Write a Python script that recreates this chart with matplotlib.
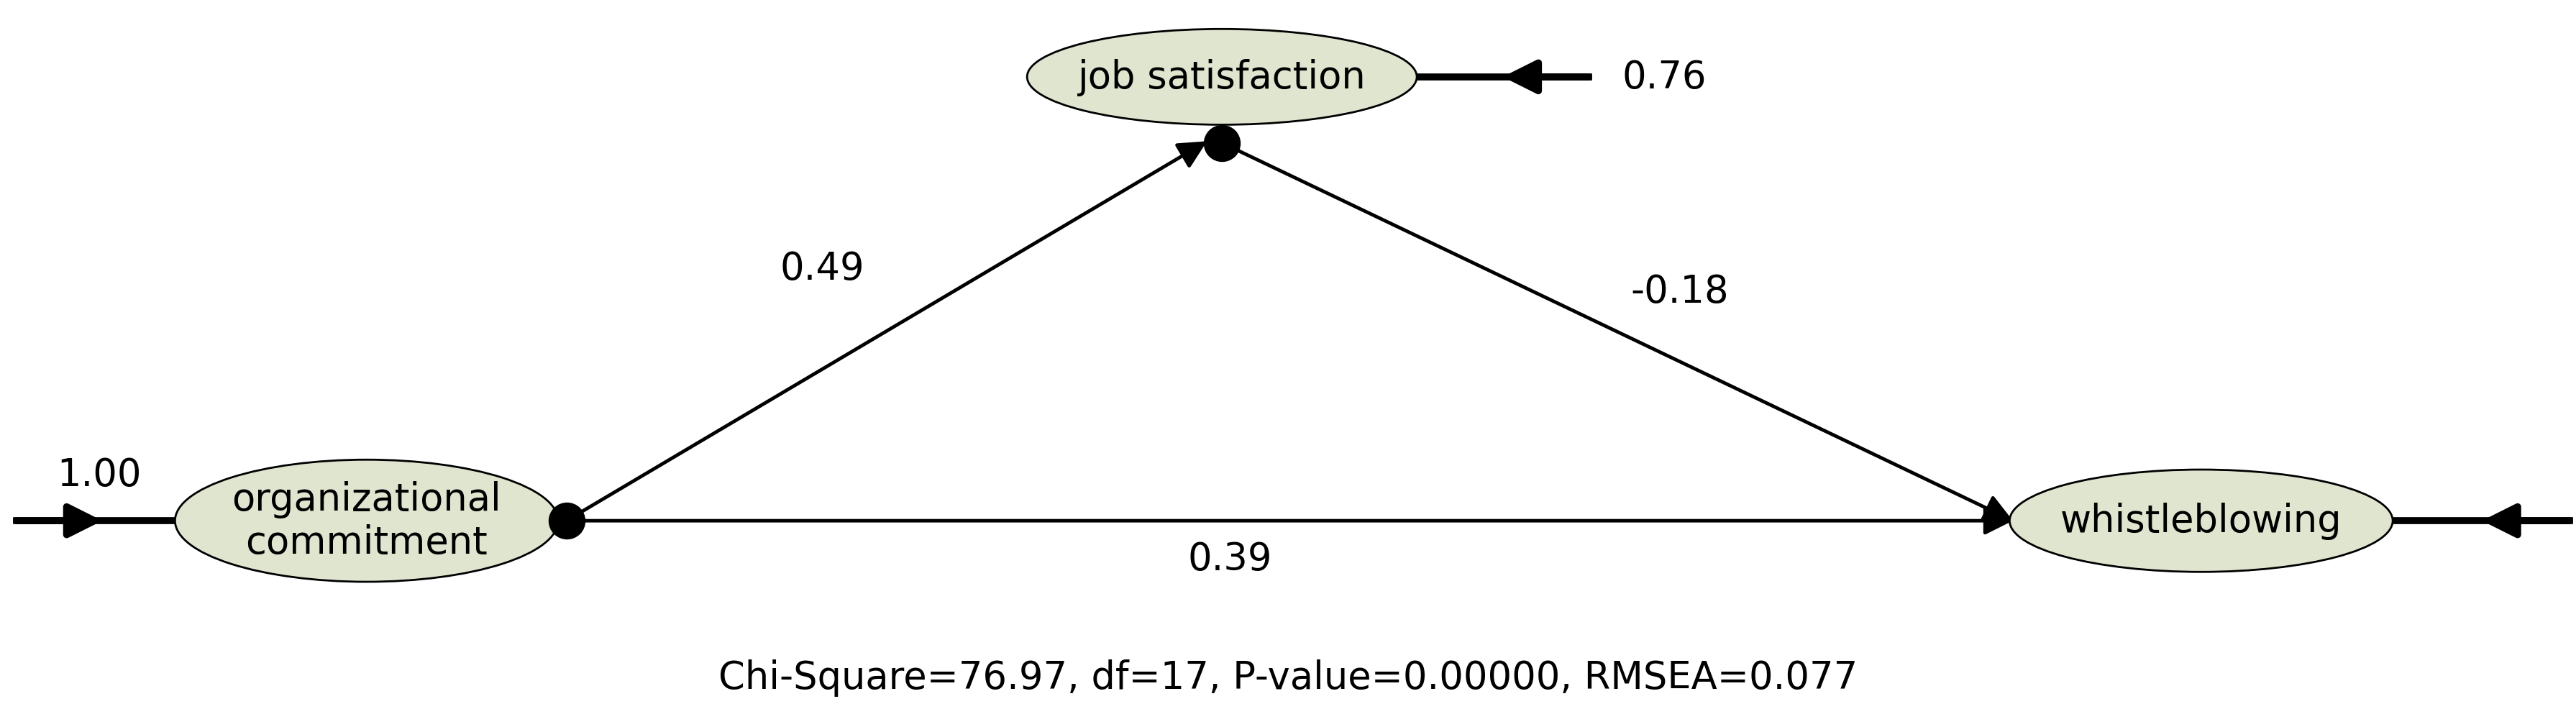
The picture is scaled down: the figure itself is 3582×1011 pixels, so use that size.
import matplotlib.pyplot as plt
from matplotlib.patches import Ellipse, FancyArrowPatch

# latent variables and their positions (in image px of a 1560x441 canvas)
node_names = ["organizational\ncommitment", "job satisfaction", "whistleblowing"]
node_xy = [(222, 316), (740, 47), (1333, 316)]
node_wh = [(232, 74), (236, 58), (232, 62)]

path_coefs = [0.49, -0.18, 0.39]
error_vals = ["1.00", "0.76", ""]
fit_text = "Chi-Square=76.97, df=17, P-value=0.00000, RMSEA=0.077"

fill = "#dfe5cf"
fs = 38

fig = plt.figure(figsize=(35.82, 10.12), dpi=100)
ax = fig.add_axes([0, 0, 1, 1])
ax.set_xlim(0, 1560)
ax.set_ylim(441, 0)
ax.axis("off")


def arrow(p0, p1, lw=3.5, ms=60):
    ax.add_patch(FancyArrowPatch(p0, p1, arrowstyle="-|>", mutation_scale=ms,
                                 lw=lw, color="black", shrinkA=0, shrinkB=0, zorder=2))


for (x, y), (w, h), name in zip(node_xy, node_wh, node_names):
    ax.add_patch(Ellipse((x, y), w, h, fc=fill, ec="black", lw=2, zorder=3))
    ax.text(x, y, name, ha="center", va="center", fontsize=fs,
            linespacing=1.2, zorder=4)

# structural paths
arrow((343, 316), (731, 86))
arrow((740, 87), (1219, 316))
arrow((343, 316), (1219, 316))
for x, y in [(343, 316), (740, 87)]:
    ax.plot(x, y, "o", color="black", ms=36, zorder=5)

# error terms
ax.plot([10, 108], [316, 316], color="black", lw=7, zorder=2)
arrow((10, 316), (62, 316), lw=7, ms=70)
ax.plot([858, 962], [47, 47], color="black", lw=7, zorder=2)
arrow((962, 47), (910, 47), lw=7, ms=70)
ax.plot([1450, 1556], [316, 316], color="black", lw=7, zorder=2)
arrow((1556, 316), (1503, 316), lw=7, ms=70)

ax.text(60, 288, error_vals[0], ha="center", va="center", fontsize=fs)
ax.text(1008, 47, error_vals[1], ha="center", va="center", fontsize=fs)
ax.text(498, 163, f"{path_coefs[0]:.2f}", ha="center", va="center", fontsize=fs)
ax.text(1017, 177, f"{path_coefs[1]:.2f}", ha="center", va="center", fontsize=fs)
ax.text(745, 339, f"{path_coefs[2]:.2f}", ha="center", va="center", fontsize=fs)
ax.text(780, 411, fit_text, ha="center", va="center", fontsize=fs)

fig.savefig("out.png", dpi=100, facecolor="white")
